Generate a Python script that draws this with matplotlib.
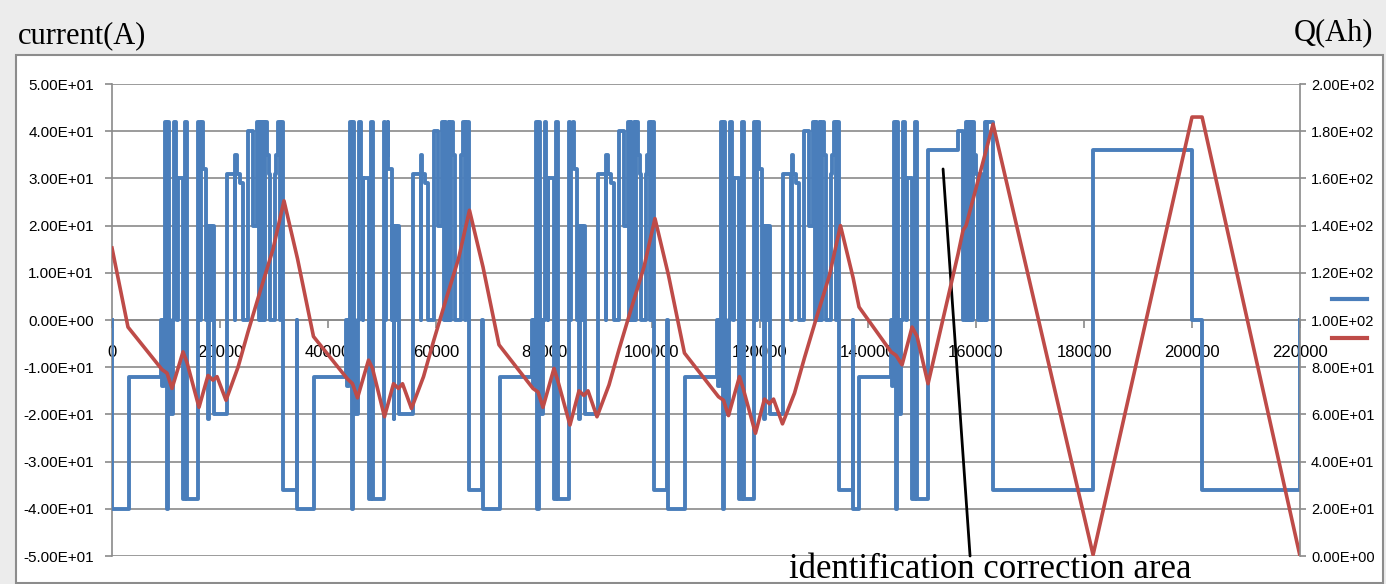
import numpy as np
import matplotlib.pyplot as plt
from matplotlib.patches import Rectangle
from matplotlib.lines import Line2D
from matplotlib.ticker import FuncFormatter

plt.rcParams['font.family'] = ['Liberation Sans', 'DejaVu Sans']
plt.rcParams['axes.unicode_minus'] = False

# one drive cycle of current: step start (s, relative to cycle start) and level (A)
cycle_t = [0, 3090, 9075, 9260, 9540, 9815, 10000, 10095, 10370, 10555,
           10740, 11205, 11480, 11760, 12040, 12130, 13150, 13610, 13980, 15930,
           16205, 16390, 16670, 16850, 17410, 17590, 17780, 17960, 18335, 18520,
           18890, 21300, 22780, 22870, 23060, 23700, 24260, 25190, 26110, 26850,
           27130, 27320, 27500, 27970, 28150, 28340, 28710, 29080, 29260, 30190,
           30370, 30740, 31020, 31210, 31670, 34170]
cycle_i = [-40, -12, 0, -14, 0, 42, 0, -40, 42, 0,
           -20, 0, 42, 30, 0, 30, -38, 42, -38, 42,
           0, 35, 42, 32, 0, 20, -21, 20, 0, 20,
           -20, 31, 0, 35, 31, 29, 0, 40, 20, 42,
           0, 42, 0, 42, 0, 42, 35, 31, 0, 31,
           35, 42, 0, 42, -36, 0]
cycle_starts = [0, 34350, 68700, 103050]

# last part incl. the identification correction area (absolute time, A)
tail_t = [137230, 138340, 144270, 144360, 144550, 144830, 145010, 145100, 145380, 145570,
          145750, 146200, 146490, 146770, 147050, 147140, 148160, 148630, 149000, 151120,
          156680, 157600, 158160, 158340, 158530, 158720, 158900, 159090, 159460, 159650,
          160020, 160390, 160950, 161140, 161700, 161880, 162070, 163160, 181680, 200000,
          201870, 220000]
tail_i = [-40, -12, 0, -14, 0, 42, 0, -40, 42, 0,
          -20, 0, 42, 30, 0, 30, -38, 42, -38, 36,
          40, 0, 42, 0, 42, 0, 42, 0, 42, 35,
          31, 0, 31, 0, 42, 0, 42, -36, 36, 0,
          -36, 0]

# charge Q (Ah)
q_t = [0, 2960, 9260, 10190, 11110, 13150, 13890, 16110, 17780, 18700,
       19450, 21110, 23340, 25190, 27410, 29820, 31850,
       34350, 37310, 43610, 44540, 45460, 47500, 48240, 50460, 52130,
       53050, 53800, 55460, 57690, 59540, 61760, 64170, 66200,
       68700, 71660, 77960, 78890, 79810, 81850, 82590, 84810, 86480,
       87400, 88150, 89810, 92040, 93890, 96110, 98520, 100550,
       103050, 106010, 112310, 113240, 114160, 116200, 116940, 119160, 120830,
       121750, 122500, 124160, 126390, 128240, 130460, 132870, 134900,
       137230, 138340, 144270, 145200, 146310, 148160, 149090, 151120,
       156680, 157600, 158160, 163160, 181680, 200000, 201870, 220000]
q_ah = [130.5, 97, 79, 77.5, 71, 86.5, 82, 63, 76.5, 74.5,
        76, 66, 80, 95, 112, 130, 150.5,
        126, 93, 75, 73, 67, 83, 79.5, 59, 73,
        71, 73, 62.5, 76, 91, 108, 126, 146.5,
        122.5, 89.5, 71, 69.5, 63, 79.5, 74, 55.5, 70,
        68, 70, 59, 72.5, 87.5, 104.5, 122.5, 143,
        119, 86, 67.5, 66, 59.5, 76, 70.5, 52, 66.5,
        64.5, 66.5, 56, 69, 84, 101, 119, 140,
        118, 105.5, 86.5, 85, 81, 97, 93, 73,
        128, 138, 140, 183, 0.5, 186, 186, 0]

t = [0]
cur = [0]
for s in cycle_starts:
    for dt, i in zip(cycle_t, cycle_i):
        if s + dt < tail_t[0]:
            t.append(s + dt)
            cur.append(i)
t += tail_t
cur += tail_i

blue = '#4a7ebb'
red = '#be4b48'
grey = '#8a8a8a'
W, H = 1386, 584

fig = plt.figure(figsize=(W / 100, H / 100), dpi=100, facecolor='#ececec')
fig.patches.append(Rectangle((16 / W, 1 - 583 / H), (1383 - 16) / W, (583 - 55) / H,
                             transform=fig.transFigure, facecolor='white',
                             edgecolor='#8c8c8c', lw=1.5, zorder=-10))

ax = fig.add_axes([112 / W, 1 - 556 / H, (1300 - 112) / W, (556 - 84) / H])
ax.plot(t, cur, drawstyle='steps-post', color=blue, lw=2.8, zorder=3)
ax.set_xlim(0, 220000)
ax.set_ylim(-50, 50)
ax.set_yticks(range(-50, 51, 10))
ax.set_xticks(range(0, 220001, 20000))
ax.yaxis.set_major_formatter(FuncFormatter(lambda v, p: f'{v:.2E}'))
ax.grid(axis='y', color=grey, lw=1.2)
ax.set_axisbelow(True)
for s in ['top', 'right']:
    ax.spines[s].set_visible(False)
ax.spines['bottom'].set_position(('data', 0))
ax.spines['left'].set_color(grey)
ax.spines['bottom'].set_color(grey)
ax.spines['left'].set_linewidth(1.2)
ax.spines['bottom'].set_linewidth(1.2)
ax.tick_params(axis='y', direction='out', length=5, width=1.2, color=grey, pad=8, labelsize=11)
ax.tick_params(axis='x', direction='out', length=6, width=1.2, color=grey, pad=12, labelsize=12)

ax2 = ax.twinx()
ax2.plot(q_t, q_ah, color=red, lw=2.6)
ax2.set_ylim(0, 200)
ax2.set_yticks(range(0, 201, 20))
ax2.yaxis.set_major_formatter(FuncFormatter(lambda v, p: f'{v:.2E}'))
for s in ['top', 'left', 'bottom']:
    ax2.spines[s].set_visible(False)
ax2.spines['right'].set_color(grey)
ax2.spines['right'].set_linewidth(1.2)
ax2.tick_params(axis='y', direction='out', length=4, width=1.2, color=grey, pad=4, labelsize=10.5)

fig.legend(handles=[Line2D([], [], color=blue, lw=3), Line2D([], [], color=red, lw=3)],
           labels=[' ', ' '], loc='center', bbox_to_anchor=(1352 / W, 1 - 320 / H),
           frameon=False, handlelength=1.9, handletextpad=0, labelspacing=1.2, fontsize=13)

serif = ['Liberation Serif', 'DejaVu Serif']
fig.text(18 / W, 1 - 36 / H, 'current(A)', ha='left', va='center', fontsize=22, family=serif)
fig.text(1373 / W, 1 - 33 / H, 'Q(Ah)', ha='right', va='center', fontsize=22, family=serif)

ax.annotate('', xy=(153900, 32), xytext=(158900, -50),
            arrowprops=dict(arrowstyle='-', lw=2, color='black', shrinkA=0, shrinkB=0),
            annotation_clip=False, zorder=5)
fig.text(990 / W, 1 - 570 / H, 'identification correction area', ha='center', va='center',
         fontsize=25, family=serif)

fig.savefig('out.png', dpi=100, facecolor=fig.get_facecolor())
